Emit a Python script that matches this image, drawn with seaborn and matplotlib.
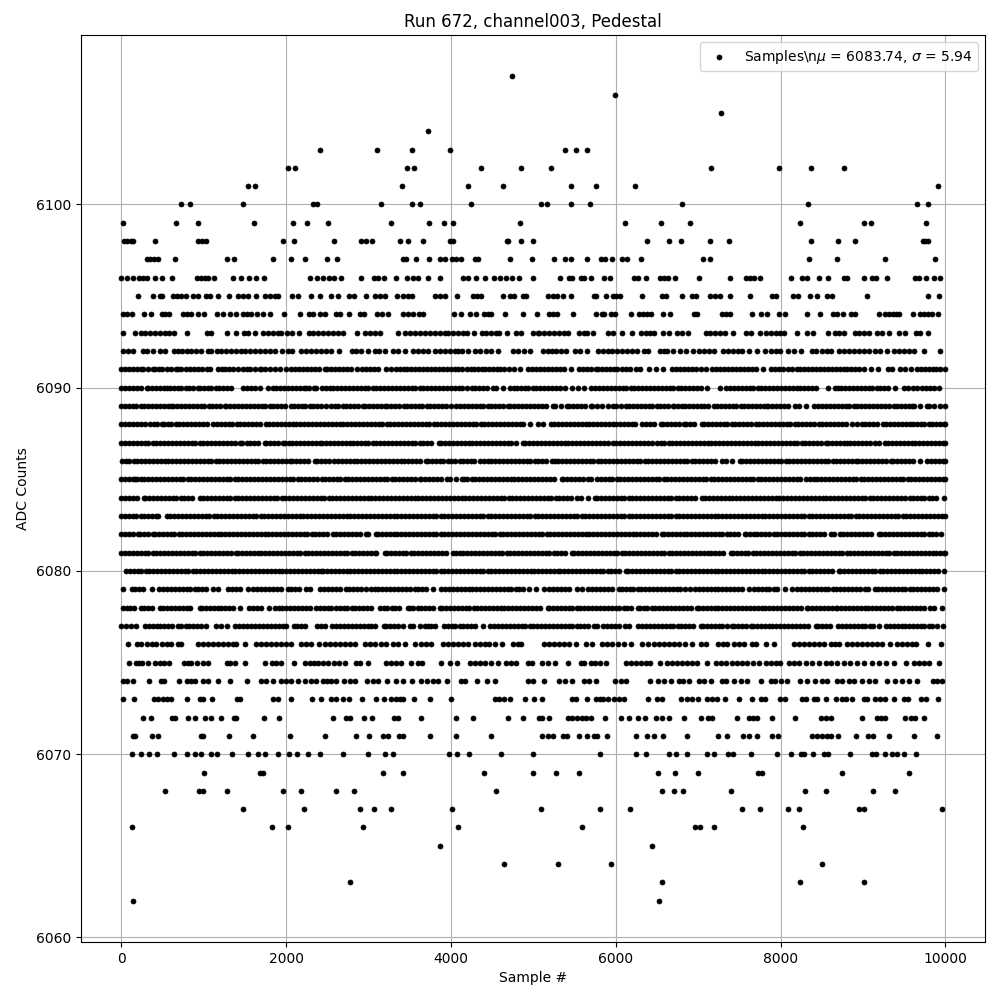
import matplotlib
matplotlib.use("Agg")
import matplotlib.pyplot as plt
import pandas as pd
import seaborn as sns

TITLE = "Run 672, channel003, Pedestal"
X_LABEL = "Sample #"
Y_LABEL = "ADC Counts"
LEGEND = "Samples\\n$\\mu$ = 6083.74, $\\sigma$ = 5.94"

s6107 = [4739]
s6106 = [5996]
s6105 = [7281]
s6104 = [3720]
s6103 = [2412, 3103, 3527, 3987, 5382, 5523, 5657]
s6102 = [2024, 2109, 3466, 3551, 4363, 4848, 5220, 7159, 7984, 8371, 8771]
s6101 = [1539, 1624, 3406, 4206, 4630, 5451, 5766, 6238, 9911]
s6100 = [727, 836, 1479, 2327, 2376, 3151, 3527, 3624, 4242, 5099, 5164, 5451, 5693, 6808, 8335, 9656, 9790]
s6099 = [24, 667, 933, 1612, 2085, 2254, 2509, 3272, 3733, 3915, 4024, 4836, 6117, 6553, 6905, 8238, 9014, 9099, 9765]
s6098 = [32, 72, 113, 145, 412, 933, 982, 1030, 1963, 2097, 2582, 2909, 2969, 3042, 3381, 3478, 3660, 3987, 4024, 4678, 4694, 4848, 4993, 6384, 6650, 6796, 7147, 7378, 8371, 8699, 8905, 9729, 9757, 9785]
s6097 = [315, 347, 400, 448, 654, 1285, 1370, 1842, 2060, 2230, 2497, 2618, 3418, 3458, 3579, 3733, 3866, 3927, 4012, 4064, 4125, 4290, 4327, 4715, 4981, 5245, 5390, 5463, 5657, 5826, 5875, 5952, 6073, 6141, 6311, 7063, 7147, 8347, 8687, 9268, 9874]
s6096 = [0, 65, 145, 218, 267, 315, 412, 497, 618, 917, 966, 1014, 1054, 1127, 1357, 1450, 1551, 1632, 1729, 2291, 2376, 2448, 2521, 2578, 2666, 2909, 3066, 3115, 3188, 3333, 3466, 3539, 3600, 3717, 3870, 4145, 4206, 4307, 4412, 4517, 4598, 4670, 4743, 4824, 4993, 5329, 5434, 5475, 5584, 5620, 5705, 5863, 5935, 6226, 6275, 6372, 6541, 6586, 6630, 6723, 7014, 7390, 7584, 7632, 7677, 7753, 8129, 8262, 8323, 8468, 8577, 8771, 8808, 9014, 9111, 9159, 9293, 9632, 9680, 9765, 9862, 9935]
s6095 = [206, 388, 469, 497, 630, 671, 731, 792, 873, 933, 1034, 1075, 1176, 1309, 1418, 1479, 1539, 1640, 1741, 1802, 1862, 1903, 2073, 2145, 2303, 2408, 2545, 2630, 2763, 2824, 2965, 3074, 3135, 3196, 3345, 3418, 3478, 3523, 3802, 3862, 3923, 4072, 4266, 4315, 4368, 4630, 4711, 4771, 4872, 4913, 5184, 5240, 5293, 5366, 5451, 5737, 5766, 5887, 5968, 6008, 6048, 6323, 6566, 6614, 6800, 6929, 6970, 7143, 7204, 7260, 7390, 7632, 7899, 7947, 8153, 8214, 8360, 8444, 8566, 8626, 9050, 9790, 9927]
s6094 = [16, 73, 133, 279, 364, 497, 537, 582, 751, 800, 844, 933, 1006, 1164, 1236, 1325, 1390, 1479, 1527, 1580, 1648, 1721, 1802, 1972, 2174, 2279, 2327, 2408, 2468, 2610, 2658, 2763, 2901, 2941, 3107, 3167, 3236, 3418, 3478, 3539, 3612, 3660, 4036, 4125, 4234, 4299, 4396, 4448, 4488, 4654, 4880, 5042, 5192, 5240, 5293, 5487, 5766, 5830, 5859, 5939, 5992, 6190, 6283, 6331, 6384, 6424, 6578, 6663, 6949, 6990, 7293, 7341, 7390, 7656, 7765, 7838, 7980, 8048, 8323, 8481, 8634, 8687, 8760, 8856, 8901, 9192, 9264, 9313, 9361, 9406, 9442, 9608, 9689, 9737, 9786, 9838, 9915]
s6093 = [24, 170, 234, 287, 347, 408, 469, 529, 582, 638, 800, 1042, 1095, 1285, 1394, 1487, 1539, 1620, 1721, 1782, 1842, 1903, 1943, 2016, 2073, 2157, 2275, 2327, 2388, 2448, 2509, 2569, 2630, 2691, 2860, 2953, 3014, 3075, 3143, 3357, 3438, 3499, 3559, 3620, 3680, 3741, 3802, 3862, 3923, 3963, 4024, 4084, 4145, 4194, 4278, 4379, 4428, 4488, 4549, 4589, 4678, 4791, 4852, 5002, 5054, 5071, 5131, 5192, 5253, 5313, 5374, 5426, 5556, 5616, 5657, 5729, 5911, 5968, 6077, 6202, 6311, 6364, 6412, 6465, 6578, 6646, 6747, 6808, 6881, 7091, 7139, 7200, 7260, 7321, 7422, 7576, 7636, 7745, 7818, 7879, 7939, 7988, 8040, 8202, 8323, 8396, 8578, 8658, 8707, 8768, 8901, 8949, 9010, 9071, 9171, 9232, 9317, 9442, 9507, 9644, 9697, 9790]
s6092 = [16, 85, 137, 267, 315, 388, 469, 529, 638, 691, 743, 800, 852, 905, 970, 1054, 1095, 1164, 1216, 1277, 1337, 1398, 1458, 1499, 1559, 1620, 1681, 1741, 1802, 1862, 1951, 2024, 2077, 2186, 2246, 2307, 2367, 2428, 2489, 2549, 2642, 2800, 2852, 2913, 2994, 3074, 3127, 3196, 3297, 3357, 3438, 3539, 3600, 3660, 3721, 3802, 3862, 3923, 3983, 4044, 4084, 4137, 4206, 4287, 4348, 4428, 4488, 4569, 4751, 4812, 4892, 4961, 5119, 5172, 5224, 5281, 5333, 5394, 5507, 5564, 5657, 5790, 5846, 5903, 5960, 6020, 6081, 6141, 6202, 6262, 6343, 6396, 6533, 6586, 6626, 6699, 6776, 6848, 6941, 7010, 7071, 7131, 7192, 7301, 7361, 7422, 7487, 7535, 7616, 7717, 7810, 7879, 7939, 7992, 8093, 8161, 8242, 8384, 8432, 8505, 8565, 8614, 8707, 8768, 8828, 8889, 8949, 9010, 9071, 9151, 9212, 9293, 9373, 9434, 9495, 9555, 9616, 9745, 9939]
s6091 = [0, 45, 90, 140, 190, 238, 267, 325, 380, 408, 455, 500, 550, 600, 659, 683, 730, 780, 835, 885, 933, 985, 1035, 1083, 1176, 1220, 1265, 1309, 1360, 1420, 1475, 1527, 1559, 1620, 1681, 1701, 1750, 1800, 1860, 1923, 2004, 2064, 2110, 2155, 2200, 2250, 2300, 2350, 2400, 2468, 2497, 2545, 2590, 2640, 2690, 2740, 2790, 2864, 2925, 2975, 3020, 3070, 3119, 3216, 3275, 3337, 3377, 3425, 3470, 3520, 3565, 3610, 3660, 3710, 3760, 3805, 3850, 3900, 3950, 4000, 4045, 4090, 4140, 4190, 4240, 4285, 4330, 4380, 4408, 4460, 4510, 4555, 4600, 4650, 4700, 4770, 4840, 4933, 4985, 5030, 5080, 5125, 5175, 5225, 5270, 5320, 5370, 5463, 5556, 5600, 5650, 5700, 5758, 5790, 5835, 5880, 5930, 5975, 6020, 6070, 6120, 6170, 6242, 6295, 6404, 6490, 6574, 6687, 6735, 6785, 6830, 6880, 6925, 6970, 7040, 7091, 7164, 7220, 7270, 7315, 7365, 7410, 7460, 7505, 7555, 7600, 7650, 7700, 7790, 7879, 7931, 7985, 8030, 8085, 8141, 8194, 8240, 8290, 8335, 8385, 8430, 8480, 8525, 8575, 8620, 8670, 8715, 8765, 8810, 8860, 8905, 8949, 9010, 9100, 9180, 9305, 9350, 9445, 9515, 9585, 9655, 9700, 9750, 9795, 9845, 9890, 9940, 10000]
s6090 = [0, 45, 95, 140, 190, 235, 307, 327, 375, 420, 470, 515, 550, 590, 635, 685, 730, 780, 825, 875, 933, 954, 1000, 1050, 1095, 1145, 1190, 1240, 1285, 1337, 1479, 1525, 1570, 1620, 1689, 1781, 1842, 1883, 1930, 1975, 2025, 2070, 2120, 2165, 2215, 2246, 2279, 2335, 2367, 2430, 2489, 2529, 2575, 2620, 2670, 2715, 2765, 2810, 2860, 2905, 2955, 3000, 3050, 3095, 3145, 3190, 3240, 3285, 3335, 3380, 3430, 3475, 3525, 3570, 3620, 3665, 3715, 3760, 3810, 3855, 3905, 3950, 4000, 4045, 4095, 4140, 4190, 4258, 4298, 4345, 4390, 4440, 4509, 4549, 4630, 4711, 4771, 4800, 4845, 4895, 4940, 4990, 5035, 5085, 5130, 5180, 5225, 5275, 5320, 5386, 5475, 5545, 5616, 5705, 5750, 5800, 5845, 5895, 5940, 5990, 6035, 6085, 6130, 6180, 6225, 6275, 6320, 6370, 6415, 6465, 6510, 6560, 6614, 6655, 6700, 6750, 6795, 6845, 6890, 6940, 6985, 7035, 7111, 7269, 7341, 7385, 7435, 7480, 7530, 7575, 7625, 7670, 7720, 7765, 7815, 7860, 7910, 7955, 8005, 8050, 8100, 8145, 8195, 8240, 8290, 8335, 8385, 8432, 8577, 8658, 8691, 8735, 8785, 8830, 8880, 8925, 8975, 9020, 9070, 9115, 9165, 9210, 9260, 9305, 9382, 9495, 9550, 9604, 9656, 9717, 9765, 9810, 9860, 9919]
s6089 = [0, 45, 90, 140, 185, 235, 280, 330, 375, 425, 470, 520, 565, 610, 630, 680, 725, 775, 820, 870, 915, 965, 1010, 1060, 1105, 1155, 1200, 1265, 1277, 1325, 1370, 1420, 1465, 1515, 1560, 1610, 1655, 1705, 1750, 1800, 1845, 1895, 1940, 1990, 2064, 2093, 2140, 2190, 2235, 2285, 2330, 2380, 2425, 2480, 2541, 2590, 2635, 2685, 2730, 2780, 2825, 2875, 2933, 2961, 3010, 3055, 3105, 3150, 3196, 3224, 3270, 3320, 3365, 3426, 3466, 3515, 3560, 3610, 3655, 3705, 3750, 3800, 3845, 3895, 3940, 4004, 4064, 4110, 4160, 4205, 4255, 4300, 4350, 4395, 4445, 4490, 4540, 4585, 4635, 4690, 4723, 4770, 4820, 4865, 4915, 4960, 5010, 5055, 5105, 5150, 5240, 5257, 5330, 5414, 5434, 5480, 5530, 5575, 5625, 5697, 5717, 5778, 5838, 5905, 5968, 6008, 6065, 6121, 6162, 6210, 6255, 6305, 6350, 6400, 6445, 6495, 6540, 6590, 6635, 6695, 6711, 6760, 6808, 6840, 6885, 6935, 6980, 7030, 7075, 7125, 7192, 7228, 7275, 7325, 7370, 7420, 7465, 7515, 7560, 7610, 7655, 7705, 7750, 7800, 7838, 7850, 7900, 7945, 7995, 8040, 8090, 8170, 8222, 8311, 8408, 8455, 8505, 8550, 8600, 8645, 8695, 8740, 8790, 8835, 8885, 8930, 8980, 9025, 9075, 9120, 9170, 9215, 9265, 9310, 9374, 9414, 9460, 9510, 9555, 9596, 9616, 9690, 9778, 9798, 9858, 9939, 10000]
s6088 = [0, 45, 95, 140, 190, 235, 287, 347, 395, 440, 489, 517, 565, 610, 660, 705, 755, 800, 850, 895, 945, 990, 1042, 1115, 1160, 1210, 1255, 1305, 1350, 1400, 1445, 1495, 1540, 1590, 1635, 1685, 1761, 1794, 1840, 1890, 1935, 1985, 2030, 2080, 2125, 2175, 2220, 2270, 2315, 2365, 2410, 2460, 2505, 2555, 2600, 2650, 2695, 2745, 2790, 2840, 2885, 2935, 2980, 3030, 3075, 3125, 3170, 3220, 3265, 3315, 3360, 3410, 3455, 3505, 3550, 3600, 3645, 3695, 3740, 3790, 3835, 3885, 3930, 3980, 4025, 4075, 4120, 4170, 4215, 4265, 4310, 4360, 4405, 4455, 4500, 4550, 4595, 4645, 4690, 4740, 4785, 4835, 4880, 4954, 5059, 5119, 5212, 5253, 5300, 5350, 5395, 5445, 5490, 5540, 5585, 5635, 5680, 5730, 5775, 5825, 5870, 5920, 5968, 6008, 6055, 6105, 6150, 6202, 6234, 6323, 6370, 6420, 6465, 6545, 6574, 6620, 6670, 6715, 6765, 6828, 6848, 6895, 6945, 7051, 7071, 7120, 7165, 7215, 7260, 7310, 7355, 7406, 7447, 7495, 7540, 7590, 7635, 7697, 7737, 7790, 7835, 7885, 7930, 7980, 8025, 8075, 8120, 8170, 8215, 8265, 8310, 8360, 8405, 8464, 8505, 8550, 8600, 8645, 8695, 8740, 8790, 8868, 8929, 8990, 9030, 9075, 9125, 9170, 9240, 9281, 9330, 9375, 9425, 9470, 9520, 9576, 9604, 9650, 9700, 9745, 9795, 9840, 9890, 9935, 9985, 10000]
s6087 = [0, 45, 95, 140, 190, 235, 285, 330, 380, 425, 475, 520, 570, 615, 665, 710, 760, 805, 855, 900, 950, 995, 1045, 1090, 1140, 1185, 1235, 1280, 1330, 1375, 1446, 1471, 1520, 1565, 1615, 1660, 1741, 1761, 1810, 1855, 1905, 1963, 1983, 2030, 2075, 2125, 2170, 2220, 2265, 2315, 2360, 2416, 2440, 2490, 2535, 2585, 2630, 2680, 2725, 2780, 2812, 2860, 2905, 2955, 3000, 3050, 3095, 3145, 3190, 3240, 3285, 3335, 3380, 3430, 3475, 3525, 3570, 3620, 3665, 3715, 3760, 3854, 3882, 3930, 3975, 4025, 4070, 4120, 4165, 4215, 4260, 4310, 4355, 4405, 4450, 4500, 4545, 4595, 4640, 4690, 4735, 4785, 4872, 4904, 4950, 5000, 5045, 5095, 5140, 5190, 5235, 5285, 5330, 5380, 5425, 5475, 5520, 5570, 5615, 5665, 5710, 5760, 5805, 5855, 5900, 5968, 6008, 6055, 6105, 6150, 6200, 6245, 6295, 6340, 6390, 6435, 6505, 6545, 6590, 6640, 6685, 6735, 6780, 6830, 6875, 6925, 6970, 7020, 7065, 7115, 7160, 7210, 7255, 7305, 7350, 7400, 7445, 7495, 7540, 7590, 7635, 7685, 7730, 7780, 7825, 7875, 7920, 7970, 8015, 8065, 8110, 8160, 8205, 8255, 8300, 8350, 8395, 8445, 8490, 8545, 8574, 8620, 8670, 8715, 8765, 8808, 8848, 8895, 8945, 8990, 9040, 9085, 9151, 9192, 9265, 9305, 9350, 9400, 9445, 9495, 9540, 9590, 9635, 9685, 9730, 9780, 9825, 9875, 9920, 9970, 10000]
s6086 = [8, 55, 100, 150, 195, 245, 290, 340, 385, 435, 480, 530, 570, 622, 670, 715, 765, 810, 860, 905, 955, 1000, 1050, 1095, 1145, 1190, 1240, 1285, 1335, 1380, 1430, 1475, 1525, 1570, 1620, 1665, 1715, 1760, 1810, 1855, 1905, 1950, 2000, 2044, 2077, 2125, 2170, 2220, 2265, 2347, 2376, 2425, 2470, 2520, 2578, 2630, 2675, 2725, 2770, 2820, 2865, 2915, 2960, 3010, 3055, 3105, 3150, 3200, 3245, 3295, 3340, 3390, 3435, 3485, 3530, 3580, 3625, 3701, 3721, 3770, 3815, 3865, 3910, 3960, 4005, 4055, 4113, 4145, 4190, 4240, 4285, 4355, 4396, 4445, 4490, 4540, 4585, 4635, 4680, 4730, 4775, 4825, 4870, 4920, 4965, 5015, 5060, 5110, 5155, 5232, 5257, 5305, 5350, 5400, 5445, 5495, 5540, 5590, 5635, 5685, 5730, 5780, 5825, 5875, 5920, 5970, 6015, 6065, 6110, 6160, 6205, 6255, 6300, 6350, 6395, 6445, 6490, 6540, 6585, 6635, 6680, 6730, 6775, 6825, 6870, 6920, 6965, 7015, 7060, 7110, 7155, 7205, 7293, 7333, 7410, 7503, 7535, 7585, 7630, 7680, 7725, 7775, 7820, 7870, 7915, 7965, 8010, 8060, 8105, 8155, 8200, 8250, 8295, 8345, 8390, 8440, 8485, 8535, 8580, 8630, 8675, 8725, 8770, 8820, 8865, 8909, 8941, 8990, 9035, 9085, 9130, 9180, 9225, 9275, 9345, 9369, 9415, 9465, 9510, 9560, 9605, 9697, 9778, 9825, 9875, 9920, 9970, 10000]
s6085 = [0, 45, 95, 140, 166, 186, 235, 280, 330, 375, 425, 470, 520, 565, 615, 660, 710, 755, 805, 850, 900, 945, 995, 1040, 1090, 1135, 1185, 1230, 1280, 1325, 1375, 1420, 1470, 1515, 1565, 1610, 1660, 1705, 1755, 1800, 1850, 1903, 1950, 1995, 2045, 2090, 2140, 2185, 2235, 2280, 2330, 2375, 2440, 2472, 2520, 2565, 2615, 2660, 2710, 2755, 2805, 2850, 2900, 2945, 2995, 3040, 3090, 3135, 3185, 3230, 3280, 3325, 3375, 3420, 3470, 3515, 3565, 3620, 3640, 3690, 3735, 3785, 3830, 3880, 3951, 3983, 4060, 4133, 4153, 4200, 4250, 4295, 4345, 4390, 4440, 4485, 4535, 4580, 4630, 4675, 4725, 4770, 4820, 4865, 4915, 4960, 5010, 5055, 5105, 5150, 5200, 5245, 5345, 5362, 5410, 5455, 5505, 5550, 5600, 5669, 5697, 5778, 5818, 5865, 5915, 5960, 6010, 6055, 6105, 6150, 6200, 6245, 6295, 6340, 6390, 6435, 6485, 6530, 6580, 6625, 6675, 6720, 6770, 6815, 6865, 6910, 6960, 7005, 7055, 7100, 7150, 7195, 7245, 7290, 7340, 7385, 7435, 7480, 7530, 7575, 7625, 7670, 7720, 7765, 7815, 7860, 7910, 7955, 8005, 8050, 8100, 8145, 8195, 8240, 8303, 8351, 8400, 8445, 8495, 8540, 8590, 8635, 8685, 8730, 8780, 8825, 8875, 8920, 8970, 9015, 9065, 9110, 9160, 9205, 9255, 9300, 9350, 9395, 9445, 9490, 9540, 9585, 9635, 9680, 9730, 9775, 9825, 9870, 9920, 9965, 10000]
s6084 = [0, 45, 95, 140, 190, 275, 291, 340, 385, 435, 480, 530, 575, 625, 670, 720, 765, 815, 860, 961, 994, 1040, 1090, 1135, 1185, 1230, 1280, 1325, 1375, 1420, 1470, 1515, 1565, 1610, 1660, 1705, 1755, 1800, 1850, 1895, 1945, 1990, 2040, 2085, 2135, 2180, 2230, 2275, 2325, 2370, 2420, 2465, 2515, 2560, 2610, 2655, 2705, 2750, 2800, 2845, 2895, 2940, 2990, 3035, 3085, 3130, 3180, 3225, 3275, 3320, 3370, 3415, 3465, 3510, 3560, 3605, 3655, 3700, 3750, 3795, 3845, 3890, 3940, 3985, 4035, 4080, 4130, 4175, 4225, 4270, 4320, 4365, 4415, 4460, 4510, 4555, 4605, 4650, 4700, 4745, 4795, 4840, 4890, 4935, 4985, 5030, 5080, 5125, 5175, 5220, 5270, 5315, 5365, 5410, 5460, 5535, 5576, 5660, 5749, 5774, 5820, 5870, 5915, 5965, 6010, 6060, 6105, 6155, 6200, 6250, 6295, 6345, 6390, 6440, 6485, 6535, 6580, 6630, 6675, 6725, 6770, 6820, 6865, 6915, 6960, 7050, 7083, 7130, 7180, 7225, 7275, 7320, 7370, 7415, 7465, 7510, 7560, 7605, 7655, 7700, 7750, 7795, 7845, 7890, 7940, 7985, 8035, 8080, 8130, 8175, 8225, 8270, 8320, 8365, 8415, 8460, 8510, 8555, 8605, 8650, 8700, 8745, 8795, 8840, 8890, 8935, 8985, 9030, 9080, 9125, 9175, 9220, 9270, 9315, 9365, 9410, 9460, 9505, 9576, 9604, 9650, 9700, 9745, 9795, 9840, 9890, 9980]
s6083 = [0, 45, 90, 140, 185, 235, 280, 330, 375, 420, 448, 550, 595, 645, 690, 740, 785, 835, 880, 930, 975, 1025, 1070, 1120, 1165, 1215, 1260, 1310, 1355, 1405, 1450, 1500, 1545, 1595, 1640, 1690, 1735, 1785, 1830, 1880, 1925, 1975, 2020, 2070, 2115, 2165, 2210, 2260, 2305, 2355, 2400, 2450, 2495, 2545, 2590, 2640, 2685, 2735, 2780, 2830, 2875, 2925, 2970, 3020, 3065, 3115, 3160, 3210, 3255, 3305, 3350, 3400, 3445, 3495, 3540, 3590, 3635, 3685, 3730, 3780, 3825, 3875, 3920, 3970, 4015, 4065, 4110, 4160, 4205, 4255, 4300, 4350, 4395, 4445, 4490, 4540, 4585, 4635, 4680, 4730, 4775, 4825, 4870, 4920, 4965, 5015, 5060, 5110, 5155, 5205, 5250, 5300, 5345, 5395, 5440, 5490, 5535, 5585, 5630, 5680, 5725, 5775, 5820, 5870, 5915, 5965, 6010, 6060, 6105, 6155, 6200, 6250, 6295, 6345, 6390, 6440, 6485, 6535, 6580, 6630, 6675, 6725, 6770, 6820, 6865, 6915, 6960, 7010, 7055, 7105, 7150, 7200, 7245, 7295, 7340, 7390, 7435, 7485, 7530, 7580, 7625, 7675, 7720, 7770, 7815, 7865, 7910, 7960, 8005, 8055, 8100, 8150, 8195, 8245, 8290, 8340, 8385, 8435, 8480, 8530, 8575, 8625, 8670, 8720, 8765, 8815, 8860, 8910, 8955, 9005, 9050, 9100, 9145, 9195, 9240, 9290, 9335, 9385, 9430, 9480, 9525, 9575, 9620, 9670, 9715, 9765, 9810, 9860, 9905, 9955, 10000]
s6082 = [0, 45, 95, 140, 206, 226, 275, 320, 380, 408, 455, 505, 550, 600, 645, 695, 740, 790, 835, 885, 930, 980, 1025, 1075, 1120, 1170, 1215, 1265, 1310, 1360, 1405, 1455, 1500, 1550, 1595, 1645, 1690, 1740, 1785, 1835, 1880, 1930, 1975, 2025, 2070, 2120, 2165, 2215, 2260, 2310, 2355, 2405, 2450, 2500, 2570, 2610, 2655, 2705, 2750, 2800, 2845, 2895, 2965, 2997, 3095, 3115, 3160, 3210, 3255, 3305, 3350, 3400, 3445, 3495, 3540, 3590, 3635, 3685, 3730, 3780, 3825, 3875, 3920, 3970, 4015, 4065, 4110, 4160, 4206, 4258, 4305, 4350, 4400, 4445, 4495, 4540, 4590, 4635, 4685, 4730, 4780, 4825, 4875, 4920, 4970, 5015, 5065, 5110, 5160, 5205, 5255, 5300, 5350, 5395, 5445, 5490, 5540, 5585, 5635, 5680, 5730, 5775, 5825, 5870, 5920, 5965, 6015, 6060, 6110, 6155, 6205, 6250, 6300, 6345, 6395, 6440, 6490, 6566, 6586, 6635, 6680, 6730, 6775, 6828, 6869, 6915, 6965, 7010, 7060, 7105, 7155, 7200, 7250, 7295, 7345, 7390, 7440, 7485, 7568, 7584, 7630, 7681, 7717, 7765, 7810, 7860, 7919, 7959, 8005, 8055, 8100, 8150, 8195, 8245, 8290, 8340, 8385, 8435, 8480, 8530, 8606, 8654, 8715, 8760, 8810, 8855, 8905, 8950, 9000, 9045, 9095, 9192, 9224, 9270, 9320, 9365, 9415, 9460, 9510, 9555, 9605, 9650, 9700, 9745, 9795, 9840, 9890, 9951]
s6081 = [0, 45, 95, 140, 190, 235, 285, 330, 380, 425, 475, 520, 570, 615, 665, 710, 760, 805, 855, 900, 950, 995, 1045, 1090, 1140, 1185, 1235, 1280, 1330, 1390, 1418, 1465, 1510, 1560, 1605, 1655, 1700, 1750, 1795, 1845, 1890, 1940, 1985, 2035, 2080, 2130, 2175, 2225, 2270, 2320, 2365, 2415, 2460, 2510, 2555, 2605, 2650, 2700, 2745, 2795, 2840, 2890, 2935, 2985, 3030, 3075, 3095, 3196, 3224, 3270, 3320, 3365, 3415, 3460, 3510, 3555, 3605, 3650, 3700, 3745, 3795, 3840, 3890, 3935, 4024, 4056, 4105, 4150, 4200, 4245, 4295, 4340, 4390, 4435, 4485, 4530, 4580, 4625, 4675, 4720, 4770, 4815, 4865, 4910, 4960, 5005, 5055, 5100, 5150, 5195, 5245, 5290, 5340, 5385, 5475, 5499, 5545, 5595, 5640, 5690, 5735, 5785, 5830, 5880, 5925, 5975, 6020, 6070, 6115, 6165, 6210, 6260, 6305, 6355, 6400, 6450, 6495, 6545, 6590, 6640, 6685, 6735, 6780, 6830, 6875, 6925, 6970, 7020, 7065, 7115, 7160, 7210, 7255, 7305, 7394, 7422, 7470, 7515, 7565, 7610, 7660, 7705, 7755, 7800, 7850, 7895, 7945, 7990, 8040, 8085, 8135, 8180, 8230, 8275, 8325, 8370, 8420, 8465, 8515, 8560, 8610, 8655, 8705, 8750, 8800, 8845, 8895, 8940, 8990, 9035, 9085, 9130, 9180, 9225, 9275, 9320, 9370, 9415, 9465, 9510, 9560, 9605, 9655, 9700, 9750, 9795, 9845, 9890, 9940, 9985, 10000]
s6080 = [57, 105, 150, 200, 245, 295, 340, 390, 435, 485, 530, 580, 625, 675, 720, 770, 815, 865, 910, 960, 1005, 1055, 1100, 1150, 1195, 1245, 1290, 1340, 1385, 1435, 1480, 1530, 1575, 1625, 1670, 1720, 1765, 1815, 1860, 1910, 1955, 2005, 2050, 2100, 2145, 2195, 2240, 2290, 2335, 2385, 2428, 2448, 2495, 2545, 2590, 2640, 2685, 2735, 2780, 2830, 2875, 2925, 2970, 3020, 3065, 3115, 3160, 3210, 3255, 3305, 3350, 3400, 3445, 3495, 3540, 3590, 3635, 3685, 3730, 3780, 3825, 3875, 3920, 3970, 4015, 4065, 4110, 4160, 4205, 4255, 4300, 4350, 4395, 4445, 4490, 4540, 4585, 4635, 4680, 4730, 4775, 4825, 4870, 4920, 4970, 5010, 5055, 5105, 5150, 5200, 5245, 5305, 5329, 5375, 5425, 5470, 5520, 5565, 5615, 5660, 5710, 5755, 5805, 5850, 5900, 5945, 5995, 6040, 6129, 6153, 6200, 6250, 6295, 6345, 6390, 6440, 6485, 6535, 6580, 6630, 6675, 6725, 6770, 6820, 6865, 6915, 6960, 7010, 7055, 7105, 7150, 7200, 7245, 7295, 7340, 7390, 7435, 7485, 7530, 7580, 7625, 7675, 7720, 7770, 7815, 7865, 7910, 7960, 8005, 8055, 8100, 8150, 8195, 8245, 8290, 8340, 8385, 8435, 8480, 8530, 8575, 8625, 8707, 8723, 8770, 8820, 8865, 8915, 8960, 9010, 9055, 9105, 9150, 9200, 9245, 9295, 9340, 9390, 9435, 9485, 9530, 9580, 9625, 9675, 9720, 9770, 9815, 9865, 9910, 9980]
s6079 = [16, 125, 170, 215, 267, 368, 461, 510, 555, 605, 650, 700, 745, 795, 840, 890, 935, 985, 1030, 1115, 1176, 1297, 1345, 1390, 1440, 1539, 1600, 1650, 1695, 1745, 1790, 1840, 1885, 1935, 2024, 2064, 2110, 2160, 2246, 2287, 2416, 2465, 2510, 2560, 2605, 2655, 2723, 2763, 2810, 2860, 2905, 2973, 3026, 3075, 3120, 3170, 3215, 3265, 3310, 3360, 3405, 3455, 3507, 3559, 3605, 3655, 3700, 3781, 3882, 3930, 3975, 4025, 4070, 4120, 4165, 4215, 4260, 4310, 4355, 4405, 4450, 4500, 4545, 4595, 4640, 4690, 4735, 4785, 4830, 4880, 4945, 5034, 5131, 5192, 5240, 5285, 5335, 5380, 5430, 5535, 5588, 5669, 5715, 5765, 5810, 5860, 5905, 5955, 6040, 6073, 6120, 6170, 6215, 6265, 6310, 6360, 6405, 6455, 6500, 6550, 6595, 6645, 6690, 6740, 6785, 6835, 6897, 6962, 7010, 7055, 7105, 7150, 7200, 7245, 7295, 7340, 7390, 7435, 7485, 7530, 7616, 7677, 7725, 7770, 7820, 7865, 7915, 7960, 8052, 8141, 8202, 8250, 8295, 8345, 8390, 8440, 8485, 8535, 8580, 8630, 8675, 8725, 8770, 8820, 8865, 8915, 8960, 9030, 9062, 9151, 9184, 9230, 9280, 9325, 9375, 9420, 9470, 9515, 9565, 9610, 9660, 9705, 9755, 9800, 9850, 9895, 9980]
s6078 = [16, 65, 110, 160, 246, 279, 325, 375, 469, 509, 555, 605, 650, 700, 745, 795, 840, 953, 978, 1025, 1075, 1120, 1170, 1215, 1265, 1310, 1360, 1438, 1551, 1600, 1645, 1701, 1794, 1862, 1910, 1955, 2005, 2050, 2100, 2145, 2195, 2240, 2290, 2359, 2408, 2455, 2505, 2550, 2600, 2658, 2699, 2745, 2795, 2840, 2890, 2935, 2985, 3030, 3135, 3184, 3230, 3280, 3325, 3375, 3478, 3499, 3545, 3595, 3640, 3690, 3735, 3785, 3862, 3895, 3940, 3990, 4035, 4085, 4130, 4180, 4225, 4275, 4320, 4370, 4415, 4465, 4510, 4560, 4609, 4650, 4695, 4745, 4790, 4840, 4885, 4935, 4980, 5030, 5075, 5172, 5192, 5240, 5285, 5335, 5380, 5430, 5475, 5525, 5570, 5620, 5665, 5715, 5760, 5810, 5855, 5905, 5950, 6000, 6045, 6095, 6140, 6190, 6275, 6291, 6340, 6385, 6435, 6480, 6530, 6575, 6625, 6670, 6720, 6765, 6815, 6860, 6910, 6990, 7010, 7055, 7105, 7150, 7200, 7245, 7295, 7340, 7390, 7435, 7485, 7530, 7580, 7625, 7675, 7720, 7770, 7815, 7865, 7910, 7960, 8005, 8055, 8100, 8150, 8195, 8245, 8323, 8335, 8380, 8430, 8475, 8525, 8570, 8620, 8667, 8687, 8735, 8780, 8830, 8875, 8925, 8970, 9020, 9065, 9115, 9160, 9210, 9255, 9305, 9350, 9414, 9454, 9500, 9550, 9595, 9645, 9690, 9740, 9818, 9858, 9959]
s6077 = [0, 57, 113, 178, 287, 335, 380, 430, 475, 525, 570, 620, 691, 731, 780, 825, 875, 920, 970, 1034, 1155, 1205, 1285, 1378, 1425, 1475, 1527, 1580, 1625, 1675, 1720, 1770, 1815, 1865, 1910, 1960, 2005, 2093, 2133, 2180, 2226, 2376, 2425, 2470, 2561, 2610, 2655, 2705, 2750, 2800, 2845, 2895, 2940, 2990, 3035, 3085, 3184, 3216, 3265, 3310, 3360, 3418, 3499, 3545, 3628, 3680, 3725, 3761, 3802, 3915, 3960, 4010, 4055, 4105, 4150, 4200, 4245, 4295, 4388, 4480, 4525, 4575, 4620, 4670, 4715, 4765, 4810, 4860, 4905, 4955, 5000, 5050, 5095, 5145, 5190, 5240, 5285, 5335, 5380, 5430, 5475, 5525, 5570, 5620, 5665, 5737, 5778, 5846, 5895, 5940, 5990, 6035, 6113, 6162, 6275, 6320, 6370, 6415, 6465, 6510, 6560, 6605, 6655, 6700, 6750, 6795, 6845, 6890, 6940, 7030, 7059, 7105, 7155, 7200, 7250, 7295, 7345, 7406, 7434, 7480, 7530, 7575, 7636, 7664, 7710, 7760, 7805, 7855, 7900, 7950, 7995, 8045, 8090, 8140, 8185, 8235, 8280, 8330, 8424, 8456, 8505, 8550, 8600, 8699, 8747, 8795, 8840, 8890, 8935, 8985, 9030, 9080, 9125, 9192, 9281, 9330, 9375, 9425, 9470, 9515, 9555, 9605, 9650, 9700, 9745, 9795, 9840, 9899, 9971]
s6076 = [85, 194, 246, 307, 368, 428, 489, 550, 610, 691, 731, 933, 994, 1054, 1115, 1176, 1236, 1297, 1357, 1398, 1507, 1640, 1701, 1761, 1822, 1883, 1943, 2004, 2064, 2186, 2246, 2307, 2400, 2468, 2529, 2590, 2650, 2711, 2771, 2832, 2953, 3014, 3075, 3155, 3216, 3297, 3357, 3438, 3567, 3640, 3701, 3761, 3903, 3963, 4024, 4084, 4145, 4206, 4287, 4348, 4408, 4468, 4529, 4618, 4751, 4812, 4852, 5131, 5192, 5253, 5313, 5374, 5434, 5515, 5644, 5717, 5830, 5899, 5959, 6032, 6101, 6182, 6315, 6396, 6465, 6525, 6586, 6646, 6707, 6768, 6840, 6929, 7030, 7091, 7244, 7301, 7354, 7434, 7495, 7556, 7648, 7705, 7818, 7919, 8161, 8222, 8283, 8343, 8404, 8464, 8525, 8606, 8658, 8707, 8808, 8868, 8929, 8990, 9050, 9111, 9171, 9232, 9333, 9414, 9474, 9535, 9596, 9648, 9790, 9951]
s6075 = [97, 178, 218, 250, 327, 408, 469, 517, 582, 760, 812, 852, 921, 994, 1054, 1285, 1325, 1378, 1499, 1745, 1834, 1883, 1943, 2093, 2226, 2287, 2335, 2388, 2448, 2509, 2578, 2642, 2715, 2844, 2893, 2994, 3216, 3276, 3337, 3398, 3519, 3600, 3652, 3878, 3992, 4076, 4226, 4287, 4348, 4408, 4488, 4569, 4670, 4731, 4791, 4933, 4985, 5103, 5172, 5257, 5426, 5576, 5616, 5697, 5750, 5806, 5879, 6129, 6182, 6242, 6303, 6364, 6420, 6533, 6626, 6687, 6747, 6808, 6869, 6929, 6990, 7103, 7212, 7273, 7333, 7406, 7475, 7535, 7596, 7664, 7737, 7818, 7879, 7939, 7988, 8101, 8161, 8222, 8303, 8384, 8464, 8545, 8606, 8687, 8768, 8848, 8929, 9010, 9111, 9192, 9273, 9373, 9523, 9616, 9677, 9737, 9798, 9927]
s6074 = [24, 73, 145, 339, 477, 521, 703, 800, 852, 893, 994, 1058, 1176, 1321, 1527, 1697, 1761, 1842, 1939, 2004, 2056, 2145, 2230, 2303, 2367, 2448, 2497, 2549, 2610, 2703, 2771, 2832, 2982, 3054, 3115, 3224, 3337, 3418, 3527, 3636, 3709, 3781, 3842, 3951, 4125, 4165, 4315, 4436, 4533, 4933, 5002, 5131, 5313, 5386, 5475, 5616, 5677, 5758, 5992, 6060, 6129, 6416, 6517, 6586, 6667, 6768, 6820, 6889, 7010, 7071, 7151, 7293, 7341, 7434, 7515, 7596, 7757, 7879, 7931, 8000, 8081, 8230, 8323, 8416, 8497, 8565, 8687, 8739, 8828, 8889, 8990, 9070, 9151, 9289, 9393, 9474, 9555, 9656, 9846, 9899, 9959]
s6073 = [24, 158, 400, 448, 509, 558, 610, 800, 953, 994, 1103, 1406, 1438, 1842, 1903, 2060, 2319, 2424, 2549, 2602, 2691, 2763, 2921, 3091, 3188, 3276, 3329, 3377, 3418, 3551, 3745, 4000, 4533, 4589, 4650, 4711, 4896, 5006, 5111, 5475, 5515, 5657, 5758, 5806, 5846, 5911, 5984, 6040, 6101, 6396, 6505, 6558, 6792, 6869, 6929, 7002, 7111, 7172, 7232, 7329, 7499, 7656, 7757, 7810, 7988, 8052, 8254, 8303, 8404, 8444, 8553, 8675, 8739, 8796, 8868, 9010, 9050, 9151, 9212, 9268, 9377, 9495, 9543, 9709, 9765, 9907]
s6072 = [267, 364, 618, 650, 812, 897, 1018, 1091, 1212, 1366, 1398, 1733, 1915, 2569, 2731, 2780, 2945, 3042, 3309, 3357, 3636, 4060, 4266, 4690, 4872, 5074, 5111, 5192, 5426, 5475, 5535, 5596, 5636, 5705, 5875, 6069, 6166, 6275, 6360, 6493, 6566, 6650, 6832, 7038, 7123, 7172, 7475, 7616, 7664, 7717, 7899, 8178, 8493, 8545, 8614, 8990, 9171, 9220, 9268, 9511, 9584, 9636, 9737]
s6071 = [137, 170, 376, 448, 962, 994, 1309, 1600, 2048, 2472, 2848, 3006, 3175, 3236, 3369, 3418, 3745, 4060, 4484, 5111, 5172, 5240, 5362, 5414, 5560, 5657, 5737, 5778, 5899, 6250, 6384, 6469, 6578, 6861, 7244, 7349, 7547, 7616, 7717, 7899, 7972, 8384, 8444, 8505, 8565, 8606, 8699, 8917, 9062, 9123, 9317, 9620, 9899]
s6070 = [125, 234, 339, 436, 642, 800, 897, 970, 1091, 1164, 1345, 1539, 1660, 1741, 1903, 2036, 2133, 2267, 2408, 2691, 2994, 3200, 3297, 3975, 4076, 4218, 4606, 4993, 5814, 6250, 6372, 6650, 6735, 6865, 7111, 7196, 7366, 7426, 7644, 7959, 8129, 8250, 8283, 8392, 8529, 8577, 8844, 9111, 9159, 9268, 9353, 9414, 9499, 9644]
s6069 = [1006, 1681, 1721, 3175, 3418, 4400, 5002, 5281, 5560, 6517, 6723, 7002, 7729, 7778, 8747, 9559]
s6068 = [533, 945, 994, 1285, 1963, 2182, 2606, 2824, 4545, 6566, 6711, 6820, 7402, 8299, 8553, 9123, 9390]
s6067 = [1479, 2218, 2897, 3066, 3272, 4012, 5099, 5814, 6178, 7535, 7753, 8093, 8226, 8953, 9014, 9959]
s6066 = [133, 1830, 2024, 2933, 4084, 5596, 6966, 7026, 7196, 8275]
s6065 = [3866, 6444]
s6064 = [4642, 5305, 5947, 8506]
s6063 = [2775, 6566, 8238, 9014]
s6062 = [145, 6529]

SAMPLES_BY_ADC = {
    6107: s6107, 6106: s6106, 6105: s6105, 6104: s6104, 6103: s6103, 6102: s6102,
    6101: s6101, 6100: s6100, 6099: s6099, 6098: s6098, 6097: s6097, 6096: s6096,
    6095: s6095, 6094: s6094, 6093: s6093, 6092: s6092, 6091: s6091, 6090: s6090,
    6089: s6089, 6088: s6088, 6087: s6087, 6086: s6086, 6085: s6085, 6084: s6084,
    6083: s6083, 6082: s6082, 6081: s6081, 6080: s6080, 6079: s6079, 6078: s6078,
    6077: s6077, 6076: s6076, 6075: s6075, 6074: s6074, 6073: s6073, 6072: s6072,
    6071: s6071, 6070: s6070, 6069: s6069, 6068: s6068, 6067: s6067, 6066: s6066,
    6065: s6065, 6064: s6064, 6063: s6063, 6062: s6062,
}

df = pd.DataFrame(
    [(s, adc) for adc, samples in SAMPLES_BY_ADC.items() for s in samples],
    columns=["sample", "adc"],
)

sns.set_theme(style="ticks", rc={"axes.grid": True, "grid.color": "#b0b0b0",
                                 "grid.linewidth": 0.8, "font.family": "DejaVu Sans",
                                 "font.size": 10, "axes.labelsize": 10,
                                 "axes.titlesize": 12, "xtick.labelsize": 10,
                                 "ytick.labelsize": 10, "legend.fontsize": 10,
                                 "axes.edgecolor": "black", "axes.linewidth": 0.8,
                                 "xtick.major.size": 3.5, "ytick.major.size": 3.5,
                                 "xtick.major.width": 0.8, "ytick.major.width": 0.8,
                                 "xtick.color": "black", "ytick.color": "black",
                                 "axes.labelcolor": "black", "text.color": "black"})

fig, ax = plt.subplots(figsize=(10, 10), dpi=100)
sns.scatterplot(data=df, x="sample", y="adc", ax=ax, marker="o", s=13, color="black",
                edgecolor="black", linewidth=0.5, label=LEGEND, zorder=2)
ax.set_xlim(-488, 10480)
ax.set_ylim(6059.75, 6109.25)
ax.set_xticks([0, 2000, 4000, 6000, 8000, 10000])
ax.set_yticks([6060, 6070, 6080, 6090, 6100])
ax.set_title(TITLE)
ax.set_xlabel(X_LABEL)
ax.set_ylabel(Y_LABEL)
ax.legend(loc="upper right", frameon=True)
fig.subplots_adjust(left=0.081, right=0.985, top=0.965, bottom=0.058)
fig.savefig("out.png", dpi=100)
